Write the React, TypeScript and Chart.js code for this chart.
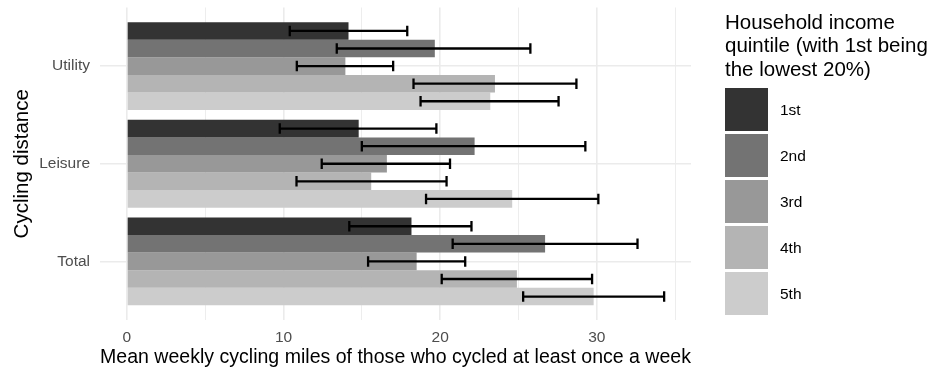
import React, { useEffect, useRef } from "react";
import { Chart, registerables } from "chart.js";

Chart.register(...registerables);

const categories = ["Utility", "Leisure", "Total"];
const quintiles = ["1st", "2nd", "3rd", "4th", "5th"];
const colors = ["#333333", "#737373", "#989898", "#B4B4B4", "#CCCCCC"];

const mean1 = [14.15, 14.8, 18.17];
const mean2 = [19.66, 22.2, 26.7];
const mean3 = [13.95, 16.6, 18.5];
const mean4 = [23.5, 15.6, 24.9];
const mean5 = [23.2, 24.6, 29.8];

const lower1 = [10.4, 9.76, 14.2];
const lower2 = [13.4, 15.0, 20.8];
const lower3 = [10.85, 12.44, 15.4];
const lower4 = [18.3, 10.83, 20.1];
const lower5 = [18.75, 19.1, 25.3];

const upper1 = [17.9, 19.76, 22.0];
const upper2 = [25.76, 29.27, 32.6];
const upper3 = [17.0, 20.63, 21.6];
const upper4 = [28.7, 20.41, 29.7];
const upper5 = [27.56, 30.1, 34.3];

const xTickValues = [0, 5, 10, 15, 20, 25, 30, 35];
const xLabelledTicks = [0, 10, 20, 30];

const means = [mean1, mean2, mean3, mean4, mean5];
const lowers = [lower1, lower2, lower3, lower4, lower5];
const uppers = [upper1, upper2, upper3, upper4, upper5];

const FONT = "'Liberation Sans', Arial, Helvetica, sans-serif";

const errorBarPlugin = {
  id: "errorBars",
  afterDatasetsDraw(chart: any) {
    const ctx = chart.ctx;
    const xScale = chart.scales.x;
    ctx.save();
    ctx.strokeStyle = "#000000";
    ctx.lineWidth = 2.3;
    chart.data.datasets.forEach((ds: any, i: number) => {
      const meta = chart.getDatasetMeta(i);
      meta.data.forEach((el: any, j: number) => {
        const y = el.y;
        const half = el.height * 0.3;
        const x1 = xScale.getPixelForValue(lowers[i][j]);
        const x2 = xScale.getPixelForValue(uppers[i][j]);
        ctx.beginPath();
        ctx.moveTo(x1, y);
        ctx.lineTo(x2, y);
        ctx.moveTo(x1, y - half);
        ctx.lineTo(x1, y + half);
        ctx.moveTo(x2, y - half);
        ctx.lineTo(x2, y + half);
        ctx.stroke();
      });
    });
    ctx.restore();
  },
};

export default function App() {
  const ref = useRef<HTMLCanvasElement | null>(null);

  useEffect(() => {
    if (!ref.current) return;
    const chart = new Chart(ref.current, {
      type: "bar",
      data: {
        datasets: quintiles.map((q, i) => ({
          label: q,
          data: categories.map((_, k) => ({ x: means[i][k], y: k })),
          backgroundColor: colors[i],
          borderWidth: 0,
          categoryPercentage: 0.9,
          barPercentage: 1.0,
        })),
      },
      options: {
        indexAxis: "y",
        animation: false,
        responsive: false,
        devicePixelRatio: 1,
        layout: { padding: { top: 7.5, right: 246, left: 0, bottom: 0 } },
        plugins: {
          legend: { display: false },
          tooltip: { enabled: false },
        },
        scales: {
          x: {
            type: "linear",
            min: -1.715,
            max: 36.015,
            offset: false,
            afterFit: (s: any) => {
              s.height = 48;
              s.paddingLeft = 0;
              s.paddingRight = 0;
            },
            afterBuildTicks: (s: any) => {
              s.ticks = xTickValues.map((v) => ({ value: v }));
            },
            border: { display: false },
            grid: {
              color: "#EBEBEB",
              offset: false,
              lineWidth: (c: any) =>
                xLabelledTicks.includes(c.tick?.value) ? 1.6 : 0.9,
              drawTicks: false,
            },
            ticks: {
              padding: 8,
              color: "#4D4D4D",
              font: { family: FONT, size: 15.5 },
              autoSkip: false,
              maxRotation: 0,
              callback: (v: any) =>
                xLabelledTicks.includes(Number(v)) ? String(v) : "",
            },
            title: {
              display: true,
              text: "Mean weekly cycling miles of those who cycled at least once a week",
              color: "#000000",
              font: { family: FONT, size: 20.5, lineHeight: 1.0 },
              padding: { top: 0, bottom: 0 },
            },
          },
          y: {
            type: "linear",
            reverse: true,
            min: -0.6,
            max: 2.6,
            offset: false,
            afterFit: (s: any) => {
              s.width = 100;
              s.paddingTop = 0;
              s.paddingBottom = 0;
            },
            afterBuildTicks: (s: any) => {
              s.ticks = categories.map((_, k) => ({ value: k }));
            },
            border: { display: false },
            grid: { color: "#EBEBEB", lineWidth: 1.6, drawTicks: false, offset: false },
            ticks: {
              padding: 10,
              color: "#4D4D4D",
              font: { family: FONT, size: 15.5 },
              autoSkip: false,
              callback: (v: any) => categories[Number(v)] ?? "",
            },
            title: {
              display: true,
              text: "Cycling distance",
              color: "#000000",
              font: { family: FONT, size: 20.5, lineHeight: 1.0 },
              padding: { top: 12, bottom: 0 },
            },
          },
        },
      } as any,
      plugins: [errorBarPlugin],
    });
    return () => chart.destroy();
  }, []);

  return (
    <div
      style={{
        position: "fixed",
        left: 0,
        top: 0,
        width: 937,
        height: 368,
        background: "#ffffff",
        fontFamily: FONT,
      }}
    >
      <canvas
        ref={ref}
        width={937}
        height={368}
        style={{ position: "absolute", left: 0, top: 0, width: 937, height: 368 }}
      />
      <div
        style={{
          position: "absolute",
          left: 725,
          top: 10,
          fontSize: 20.5,
          lineHeight: "23.4px",
          color: "#000000",
          whiteSpace: "nowrap",
        }}
      >
        Household income
        <br />
        quintile (with 1st being
        <br />
        the lowest 20%)
      </div>
      {quintiles.map((q, i) => (
        <div
          key={q}
          style={{
            position: "absolute",
            left: 725,
            top: 88 + i * 46,
            height: 43,
            display: "flex",
            alignItems: "center",
          }}
        >
          <div style={{ width: 43, height: 43, background: colors[i] }} />
          <span style={{ marginLeft: 12, fontSize: 15.5, color: "#000000" }}>{q}</span>
        </div>
      ))}
    </div>
  );
}
